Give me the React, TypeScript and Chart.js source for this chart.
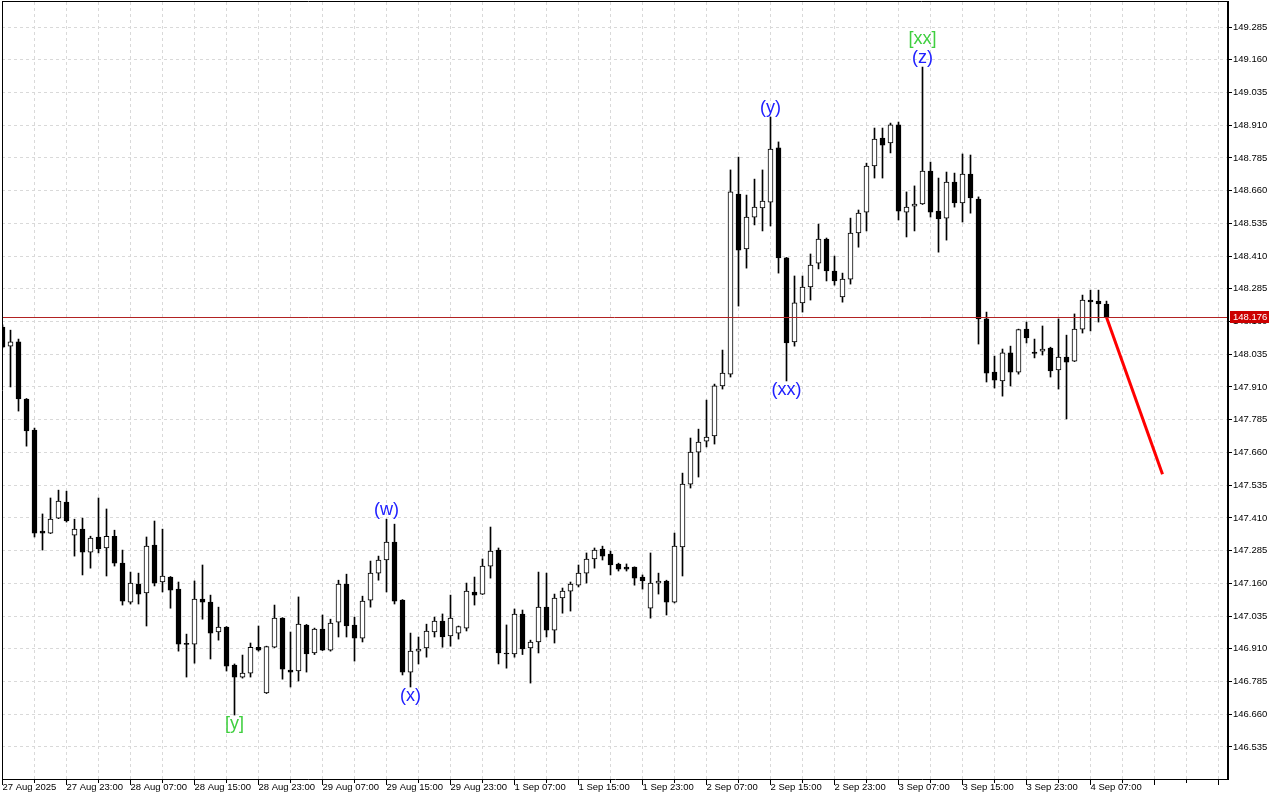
import { useEffect, useRef } from "react";
import { Chart, registerables } from "chart.js";

Chart.register(...registerables);

// ---- data ----
const xLabels = [
  "27 Aug 2025", "27 Aug 23:00", "28 Aug 07:00", "28 Aug 15:00", "28 Aug 23:00",
  "29 Aug 07:00", "29 Aug 15:00", "29 Aug 23:00", "1 Sep 07:00", "1 Sep 15:00",
  "1 Sep 23:00", "2 Sep 07:00", "2 Sep 15:00", "2 Sep 23:00", "3 Sep 07:00",
  "3 Sep 15:00", "3 Sep 23:00", "4 Sep 07:00",
];

const yTicks = [
  146.535, 146.66, 146.785, 146.91, 147.035, 147.16, 147.285, 147.41, 147.535,
  147.66, 147.785, 147.91, 148.035, 148.16, 148.285, 148.41, 148.535, 148.66,
  148.785, 148.91, 149.035, 149.16, 149.285,
];

const opens = [
  148.139, 148.066, 148.082, 147.864, 147.745, 147.360, 147.352, 147.409, 147.470, 147.344,
  147.367, 147.279, 147.337, 147.295, 147.340, 147.237, 147.088, 147.157, 147.123, 147.306,
  147.165, 147.184, 147.138, 146.928, 146.928, 147.100, 147.088, 146.974, 146.993, 146.848,
  146.802, 146.817, 146.916, 146.741, 146.916, 147.027, 146.829, 146.825, 147.001, 146.894,
  146.985, 146.905, 147.012, 147.157, 147.001, 146.951, 147.096, 147.199, 147.249, 147.318,
  147.096, 146.821, 146.901, 146.913, 146.974, 147.016, 146.959, 146.970, 146.989, 147.127,
  147.119, 147.226, 147.287, 146.894, 146.890, 147.043, 146.913, 146.936, 147.069, 146.981,
  147.104, 147.130, 147.153, 147.199, 147.253, 147.291, 147.272, 147.234, 147.222, 147.222,
  147.184, 147.065, 147.161, 147.169, 147.088, 147.299, 147.539, 147.661, 147.703, 147.723,
  147.914, 147.959, 148.647, 148.437, 148.559, 148.594, 148.616, 148.823, 148.403, 148.082,
  148.231, 148.292, 148.383, 148.475, 148.353, 148.254, 148.322, 148.498, 148.578, 148.754,
  148.861, 148.842, 148.911, 148.578, 148.601, 148.609, 148.735, 148.582, 148.555, 148.693,
  148.613, 148.723, 148.628, 148.170, 147.967, 147.933, 148.040, 147.967, 148.131, 148.043,
  148.047, 148.059, 147.975, 148.024, 148.009, 148.131, 148.242, 148.238, 148.227,
];

const highs = [
  148.147, 148.127, 148.093, 147.866, 147.753, 147.425, 147.486, 147.516, 147.512, 147.405,
  147.409, 147.340, 147.486, 147.444, 147.363, 147.287, 147.203, 147.199, 147.337, 147.398,
  147.367, 147.186, 147.165, 146.966, 147.169, 147.230, 147.115, 147.069, 146.995, 146.852,
  146.886, 146.932, 146.997, 146.920, 147.077, 147.029, 146.974, 147.108, 147.003, 146.989,
  147.039, 147.023, 147.172, 147.195, 147.031, 147.111, 147.245, 147.264, 147.405, 147.386,
  147.098, 146.970, 146.955, 147.004, 147.031, 147.043, 147.115, 146.997, 147.161, 147.184,
  147.253, 147.375, 147.295, 147.001, 147.062, 147.058, 146.943, 147.203, 147.199, 147.119,
  147.142, 147.165, 147.230, 147.276, 147.295, 147.302, 147.283, 147.237, 147.234, 147.223,
  147.192, 147.276, 147.199, 147.172, 147.352, 147.581, 147.715, 147.749, 147.860, 147.921,
  148.051, 148.739, 148.788, 148.643, 148.704, 148.739, 148.941, 148.846, 148.405, 148.334,
  148.334, 148.418, 148.532, 148.479, 148.410, 148.345, 148.555, 148.586, 148.765, 148.899,
  148.899, 148.918, 148.922, 148.655, 148.678, 149.132, 148.769, 148.708, 148.731, 148.727,
  148.800, 148.796, 148.636, 148.196, 148.028, 148.055, 148.066, 148.131, 148.158, 148.093,
  148.143, 148.062, 148.170, 148.108, 148.189, 148.261, 148.280, 148.280, 148.238,
];

const lows = [
  148.059, 147.910, 147.818, 147.684, 147.337, 147.287, 147.350, 147.407, 147.394, 147.264,
  147.192, 147.218, 147.276, 147.188, 147.226, 147.077, 147.081, 147.081, 146.997, 147.150,
  147.127, 147.065, 146.901, 146.802, 146.855, 147.023, 146.871, 146.943, 146.825, 146.657,
  146.798, 146.802, 146.901, 146.739, 146.914, 146.794, 146.764, 146.787, 146.821, 146.888,
  146.903, 146.901, 146.955, 146.955, 146.863, 146.936, 147.069, 147.172, 147.127, 147.081,
  146.810, 146.764, 146.852, 146.878, 146.955, 146.916, 146.920, 146.947, 146.978, 147.077,
  147.117, 147.180, 146.852, 146.836, 146.878, 146.888, 146.779, 146.894, 146.955, 146.932,
  147.046, 147.054, 147.146, 147.161, 147.218, 147.249, 147.192, 147.207, 147.207, 147.153,
  147.138, 147.027, 147.119, 147.039, 147.085, 147.188, 147.524, 147.566, 147.681, 147.692,
  147.902, 147.948, 148.219, 148.364, 148.529, 148.506, 148.525, 148.345, 147.933, 148.066,
  148.196, 148.242, 148.361, 148.315, 148.299, 148.234, 148.303, 148.444, 148.506, 148.708,
  148.708, 148.804, 148.548, 148.483, 148.506, 148.607, 148.559, 148.425, 148.471, 148.597,
  148.540, 148.574, 148.074, 147.929, 147.906, 147.875, 147.914, 147.959, 148.078, 148.021,
  148.032, 147.948, 147.902, 147.788, 148.007, 148.116, 148.124, 148.158, 148.176,
];

const closes = [
  148.062, 148.082, 147.864, 147.742, 147.352, 147.352, 147.405, 147.474, 147.398, 147.367,
  147.279, 147.333, 147.291, 147.340, 147.237, 147.092, 147.161, 147.119, 147.302, 147.161,
  147.188, 147.134, 146.928, 146.927, 147.100, 147.088, 146.970, 146.993, 146.844, 146.802,
  146.817, 146.916, 146.905, 146.918, 147.027, 146.832, 146.821, 147.004, 146.890, 146.985,
  146.905, 147.008, 147.157, 146.997, 146.951, 147.092, 147.199, 147.249, 147.318, 147.092,
  146.821, 146.901, 146.909, 146.978, 147.016, 146.955, 147.027, 146.995, 147.130, 147.115,
  147.226, 147.283, 146.894, 146.890, 147.043, 146.909, 146.936, 147.069, 146.981, 147.104,
  147.130, 147.157, 147.199, 147.253, 147.287, 147.264, 147.230, 147.214, 147.214, 147.180,
  147.169, 147.161, 147.169, 147.088, 147.302, 147.539, 147.661, 147.700, 147.719, 147.914,
  147.963, 148.655, 148.433, 148.559, 148.597, 148.620, 148.819, 148.403, 148.078, 148.231,
  148.292, 148.376, 148.475, 148.353, 148.315, 148.322, 148.498, 148.574, 148.754, 148.857,
  148.834, 148.911, 148.582, 148.597, 148.609, 148.735, 148.578, 148.552, 148.693, 148.613,
  148.723, 148.632, 148.170, 147.963, 147.936, 148.040, 147.967, 148.129, 148.097, 148.038,
  148.055, 147.971, 148.024, 148.005, 148.131, 148.242, 148.235, 148.227, 148.176,
];

const currentPrice = 148.176;
const forecastX = [138, 145];
const forecastY = [148.176, 147.577];

const waveLabels = ["[y]", "(w)", "(x)", "(y)", "(xx)", "[xx]", "(z)"];
const waveBars = [29, 48, 51, 96, 98, 115, 115];
const waveSides = ["below", "above", "below", "above", "below", "above2", "above"];
const waveColors = ["#3fcf3f", "#2020ff", "#2020ff", "#2020ff", "#2020ff", "#3fcf3f", "#2020ff"];

// ---- styling ----
const AXIS_FONT = { family: '"Liberation Sans", Arial, sans-serif', size: 9.5 };
const GRID_COLOR = "#d9d9d9";
const X_MIN = -0.0625;
const X_MAX = 153.0625;

const decorPlugin = {
  id: "decor",
  afterDatasetsDraw(chart: any) {
    const { ctx, chartArea: a, scales } = chart;
    const x = scales.x;
    const y = scales.y;
    ctx.save();
    ctx.beginPath();
    ctx.rect(a.left, a.top, a.right - a.left, a.bottom - a.top);
    ctx.clip();
    const py = Math.floor(y.getPixelForValue(currentPrice)) + 0.5;
    ctx.strokeStyle = "#b22222";
    ctx.lineWidth = 1;
    ctx.beginPath();
    ctx.moveTo(a.left, py);
    ctx.lineTo(a.right, py);
    ctx.stroke();
    ctx.font = '18px "Liberation Sans", Arial, sans-serif';
    ctx.textAlign = "center";
    ctx.textBaseline = "middle";
    waveLabels.forEach((t, k) => {
      const i = waveBars[k];
      const px = x.getPixelForValue(i);
      let ty: number;
      if (waveSides[k] === "below") ty = y.getPixelForValue(lows[i]) + 9;
      else ty = y.getPixelForValue(highs[i]) - 9 - (waveSides[k] === "above2" ? 19 : 0);
      ctx.fillStyle = waveColors[k];
      ctx.fillText(t, px, ty);
    });
    ctx.restore();
  },
  afterDraw(chart: any) {
    const { ctx, chartArea: a, scales } = chart;
    const x = scales.x;
    const y = scales.y;
    ctx.save();
    ctx.strokeStyle = "#000";
    ctx.lineWidth = 1;
    const line = (x1: number, y1: number, x2: number, y2: number) => {
      ctx.beginPath();
      ctx.moveTo(x1, y1);
      ctx.lineTo(x2, y2);
      ctx.stroke();
    };
    line(a.left + 0.5, 1, a.left + 0.5, a.bottom + 1);
    line(a.left, 1.5, a.right + 1, 1.5);
    line(a.left, a.bottom + 0.5, a.right + 2, a.bottom + 0.5);
    ctx.fillStyle = "#000";
    ctx.fillRect(a.right, 1, 2, a.bottom);
    yTicks.forEach((v) => {
      const yy = Math.floor(y.getPixelForValue(v)) + 0.5;
      line(a.right + 2, yy, a.right + 5, yy);
    });
    for (let i = 0; i <= 152; i += 4) {
      const xx = Math.floor(x.getPixelForValue(i)) + 0.5;
      const len = i % 8 === 0 ? 5 : 3;
      line(xx, a.bottom + 1, xx, a.bottom + 1 + len);
    }
    const cy = y.getPixelForValue(currentPrice);
    ctx.fillStyle = "#cc0000";
    ctx.fillRect(a.right + 3, Math.round(cy) - 6, 39, 12);
    ctx.fillStyle = "#ffffff";
    ctx.font = '9.5px "Liberation Sans", Arial, sans-serif';
    ctx.textAlign = "left";
    ctx.textBaseline = "middle";
    ctx.fillText(currentPrice.toFixed(3), a.right + 6, Math.round(cy));
    ctx.restore();
  },
};

export default function App() {
  const ref = useRef<HTMLCanvasElement>(null);

  useEffect(() => {
    document.body.style.margin = "0";
    const bodies = opens.map((o, i) => ({ x: i, y: [o, closes[i]] }));
    const wicks = lows.map((l, i) => ({ x: i, y: [l, highs[i]] }));
    const bodyColors = opens.map((o, i) => (closes[i] > o ? "#ffffff" : "#000000"));
    const forecast = forecastX.map((fx, i) => ({ x: fx, y: forecastY[i] }));

    const chart = new Chart(ref.current as HTMLCanvasElement, {
      type: "bar",
      data: {
        datasets: [
          {
            type: "line",
            data: forecast,
            borderColor: "#ff0000",
            borderWidth: 3,
            pointRadius: 0,
            order: 0,
          } as any,
          {
            data: bodies as any,
            backgroundColor: bodyColors,
            borderColor: "#000000",
            borderWidth: 1,
            borderSkipped: false,
            barThickness: 5,
            minBarLength: 1,
            grouped: false,
            order: 1,
          } as any,
          {
            data: wicks as any,
            backgroundColor: "#000000",
            borderWidth: 0,
            barThickness: 1,
            grouped: false,
            order: 2,
          } as any,
        ],
      },
      options: {
        responsive: false,
        animation: false,
        events: [],
        devicePixelRatio: 1,
        layout: { padding: { left: 2, top: 2, right: 0, bottom: 0 } },
        plugins: { legend: { display: false }, tooltip: { enabled: false } },
        scales: {
          x: {
            type: "linear",
            min: X_MIN,
            max: X_MAX,
            offset: false,
            afterBuildTicks: (s: any) => {
              const t = [];
              for (let i = 0; i <= 152; i += 4) t.push({ value: i });
              s.ticks = t;
            },
            afterFit: (s: any) => {
              s.height = 21;
              s.paddingLeft = 0;
              s.paddingRight = 0;
              s.paddingTop = 0;
              s.paddingBottom = 0;
            },
            grid: { color: GRID_COLOR, drawTicks: false, offset: false, lineWidth: 1 },
            border: { display: false, dash: [3, 3] },
            ticks: {
              autoSkip: false,
              maxRotation: 0,
              minRotation: 0,
              align: "start",
              padding: 3,
              color: "#000",
              font: AXIS_FONT,
              callback: (v: any) => {
                const n = Number(v);
                return n % 8 === 0 ? xLabels[n / 8] ?? "" : "";
              },
            },
          } as any,
          y: {
            type: "linear",
            position: "right",
            min: 146.4126,
            max: 149.3805,
            afterBuildTicks: (s: any) => {
              s.ticks = yTicks.map((v) => ({ value: v }));
            },
            afterFit: (s: any) => {
              s.width = 53;
              s.paddingLeft = 0;
              s.paddingRight = 0;
              s.paddingTop = 0;
              s.paddingBottom = 0;
            },
            grid: { color: GRID_COLOR, drawTicks: false, lineWidth: 1 },
            border: { display: false, dash: [3, 3] },
            ticks: {
              padding: 6,
              color: "#000",
              font: AXIS_FONT,
              callback: (v: any) => Number(v).toFixed(3),
            },
          } as any,
        },
      },
      plugins: [decorPlugin],
    });
    return () => chart.destroy();
  }, []);

  return (
    <div style={{ position: "absolute", left: 0, top: 0 }}>
      <canvas ref={ref} width={1280} height={800} style={{ display: "block" }} />
    </div>
  );
}
